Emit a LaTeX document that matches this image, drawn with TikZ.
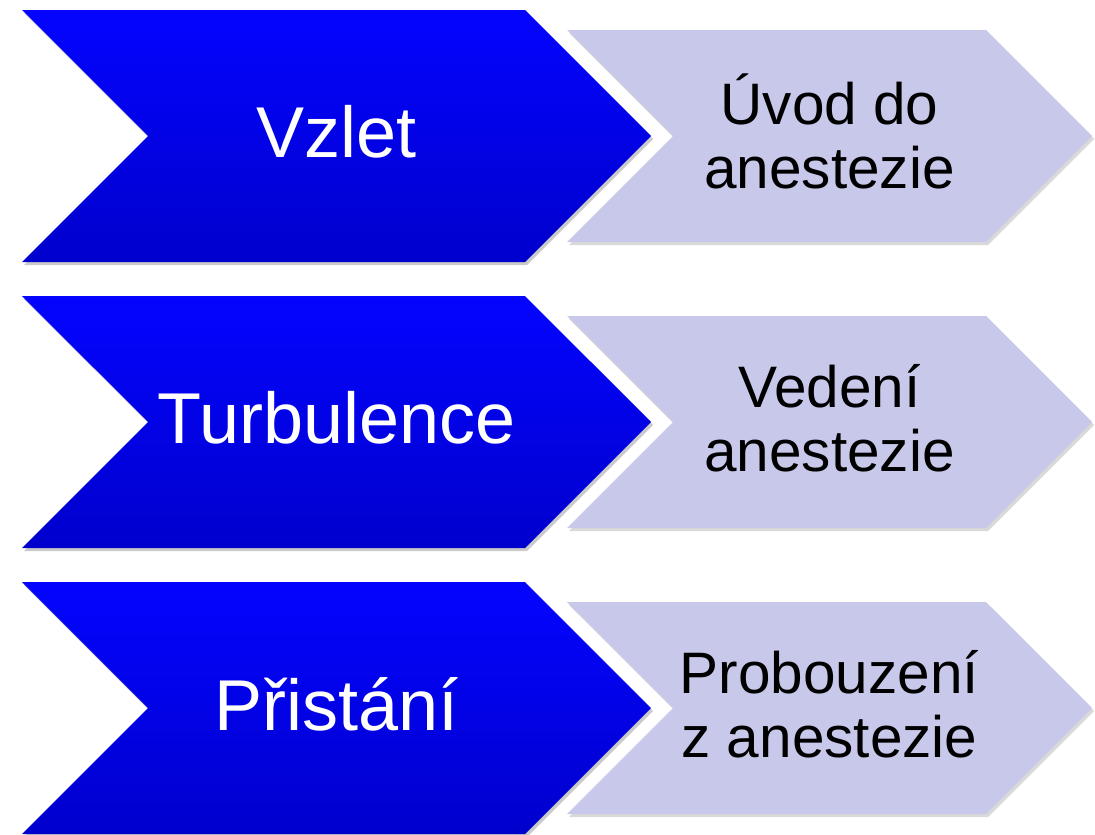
\documentclass[tikz,border=0pt]{standalone}
\usepackage{fontspec}
\setmainfont{Liberation Sans}
\usetikzlibrary{shapes.symbols,shadows}
\definecolor{phasetop}{RGB}{4,4,255}
\definecolor{phasebot}{RGB}{0,0,205}
\definecolor{steplight}{RGB}{200,200,234}
\def\phaselist{{136/vzlet/Vzlet/uvod/{Úvod do\\anestezie}},
  {422/turb/Turbulence/vedeni/{Vedení\\anestezie}},
  {708/prist/Přistání/probuz/{Probouzení\\z anestezie}}}
\tikzstyle{phase}=[signal, signal from=west, signal to=east, signal pointer angle=90,
  minimum width=629pt, minimum height=252pt, inner sep=0pt, text depth=9pt,
  top color=phasetop, bottom color=phasebot, text=white,
  font=\fontsize{72}{79}\selectfont,
  drop shadow={shadow xshift=2pt, shadow yshift=-3pt, opacity=0.35, fill=black!60}]
\tikzstyle{stage}=[signal, signal from=west, signal to=east, signal pointer angle=90,
  minimum width=525pt, minimum height=212pt, inner sep=0pt, align=center, text depth=9pt,
  fill=steplight, text=black, font=\fontsize{58.5}{64}\selectfont,
  drop shadow={shadow xshift=2pt, shadow yshift=-3pt, opacity=0.3, fill=black!50}]

\begin{document}
\begin{tikzpicture}[x=1pt, y=-1pt]
  \useasboundingbox (0,0) rectangle (1095,835);
  % Phases of the flight and the matching stages
  \foreach \y/\pname/\ptext/\sname/\stext in \phaselist {
    \node[stage] (\sname) at (829.5,\y) {\stext};
    \node[phase] (\pname) at (336.5,\y) {\ptext};
  }
\end{tikzpicture}
\end{document}
